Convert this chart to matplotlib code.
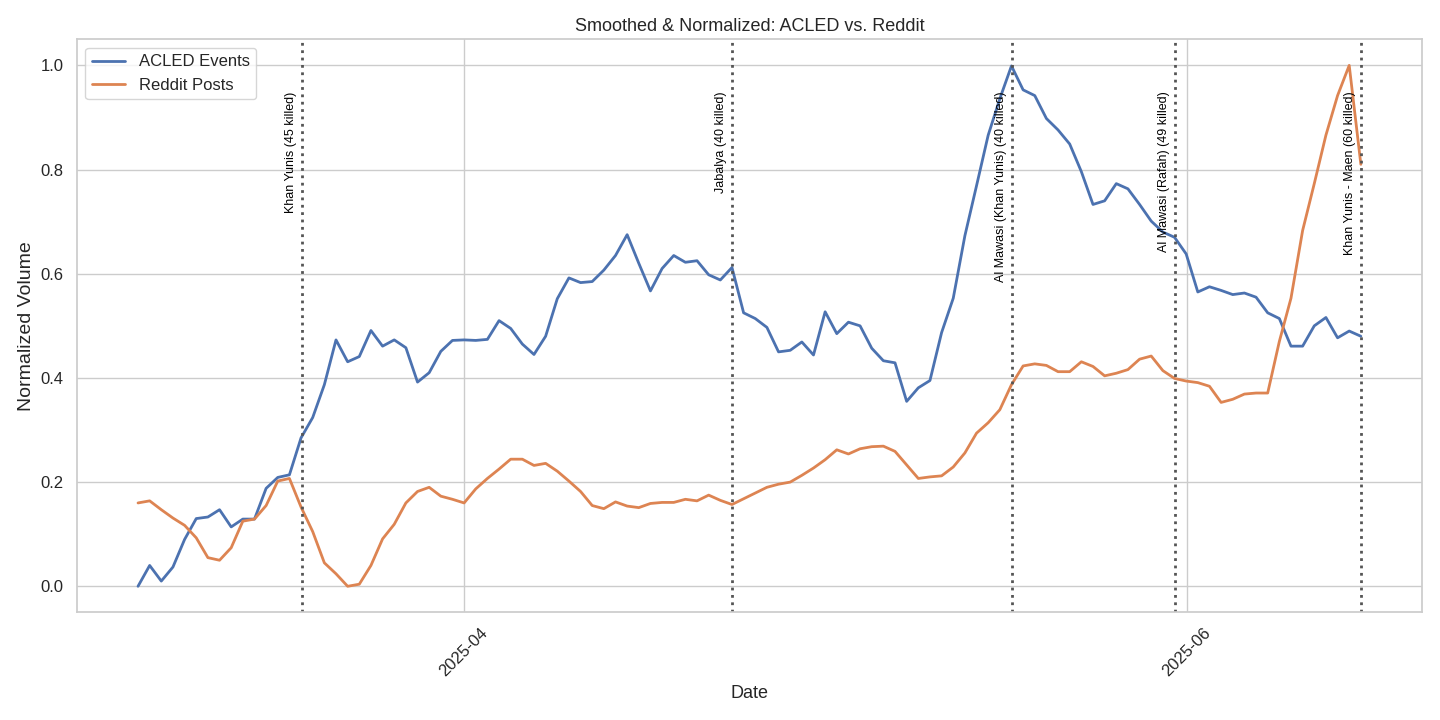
import numpy as np
import pandas as pd
import matplotlib
matplotlib.use("Agg")
import matplotlib.pyplot as plt
import matplotlib.dates as mdates
import seaborn as sns

# smoothed, normalized daily volumes
acled = [0.0, 0.04, 0.01, 0.037, 0.09, 0.13, 0.133, 0.147, 0.114, 0.129, 0.129, 0.188, 0.209, 0.214,
         0.285, 0.324, 0.387, 0.473, 0.431, 0.441, 0.491, 0.461, 0.473, 0.458, 0.392, 0.41, 0.451, 0.472,
         0.473, 0.472, 0.474, 0.51, 0.495, 0.465, 0.445, 0.48, 0.552, 0.592, 0.583, 0.585, 0.607, 0.635,
         0.675, 0.62, 0.567, 0.61, 0.635, 0.622, 0.625, 0.598, 0.588, 0.612,
         0.525, 0.514, 0.497, 0.450, 0.453, 0.469, 0.444, 0.527, 0.485, 0.507, 0.5, 0.457, 0.433, 0.429,
         0.355, 0.381, 0.395, 0.487, 0.553, 0.673, 0.769, 0.866, 0.936, 0.999, 0.953, 0.942, 0.898, 0.876,
         0.849, 0.796, 0.733, 0.74, 0.773, 0.763, 0.733, 0.701, 0.68, 0.67, 0.638, 0.565, 0.575, 0.568,
         0.56, 0.563, 0.555, 0.525, 0.514, 0.461, 0.461, 0.5, 0.516, 0.477, 0.49, 0.48]
reddit = [0.16, 0.164, 0.147, 0.131, 0.117, 0.093, 0.055, 0.05, 0.074, 0.125, 0.129, 0.155, 0.202, 0.207,
          0.152, 0.105, 0.045, 0.024, 0.0, 0.004, 0.04, 0.091, 0.119, 0.16, 0.182, 0.19, 0.173, 0.167,
          0.16, 0.187, 0.207, 0.225, 0.244, 0.244, 0.232, 0.236, 0.221, 0.202, 0.182, 0.155, 0.149, 0.162,
          0.154, 0.151, 0.159, 0.161, 0.161, 0.167, 0.164, 0.175, 0.165, 0.157,
          0.168, 0.179, 0.19, 0.196, 0.2, 0.213, 0.227, 0.243, 0.262, 0.254, 0.264, 0.268, 0.269, 0.259,
          0.233, 0.207, 0.21, 0.212, 0.229, 0.256, 0.294, 0.314, 0.339, 0.387, 0.423, 0.427, 0.424, 0.412,
          0.412, 0.431, 0.422, 0.404, 0.409, 0.416, 0.436, 0.442, 0.414, 0.399, 0.394, 0.391, 0.384, 0.353,
          0.359, 0.369, 0.371, 0.371, 0.47, 0.553, 0.683, 0.773, 0.866, 0.942, 1.0, 0.81]

dates = pd.date_range("2025-03-04 12:00", "2025-06-15 17:00", periods=len(acled))

event_dates = ["2025-03-18 08:00", "2025-04-23 16:00", "2025-05-17 06:00", "2025-05-31 00:00", "2025-06-15 17:00"]
event_labels = ["Khan Yunis (45 killed)", "Jabalya (40 killed)", "Al Mawasi (Khan Yunis) (40 killed)",
                "Al Mawasi (Rafah) (49 killed)", "Khan Yunis - Maen (60 killed)"]

sns.set_theme(style="whitegrid")
plt.rcParams["font.family"] = ["Liberation Sans", "DejaVu Sans"]
fig, ax = plt.subplots(figsize=(14.4, 7.2), dpi=100)
ax.plot(dates, acled, label="ACLED Events", color="#4c72b0", lw=2)
ax.plot(dates, reddit, label="Reddit Posts", color="#dd8452", lw=2)

for d, lab in zip(event_dates, event_labels):
    d = pd.Timestamp(d)
    ax.axvline(d, color="#555555", linestyle=":", lw=2)
    ax.text(d - pd.Timedelta(hours=10), 0.95, lab, rotation=90, ha="right", va="top",
            fontsize=9, color="black")

ax.xaxis.set_major_locator(mdates.MonthLocator(bymonth=[4, 6]))
ax.xaxis.set_major_formatter(mdates.DateFormatter("%Y-%m"))
ax.tick_params(labelsize=12)
plt.setp(ax.get_xticklabels(), rotation=45)
ax.set_title("Smoothed & Normalized: ACLED vs. Reddit", fontsize=13)
ax.set_xlabel("Date", fontsize=13)
ax.set_ylabel("Normalized Volume", fontsize=14)
ax.legend(loc="upper left", fontsize=12)
plt.tight_layout()
plt.savefig("out.png")
